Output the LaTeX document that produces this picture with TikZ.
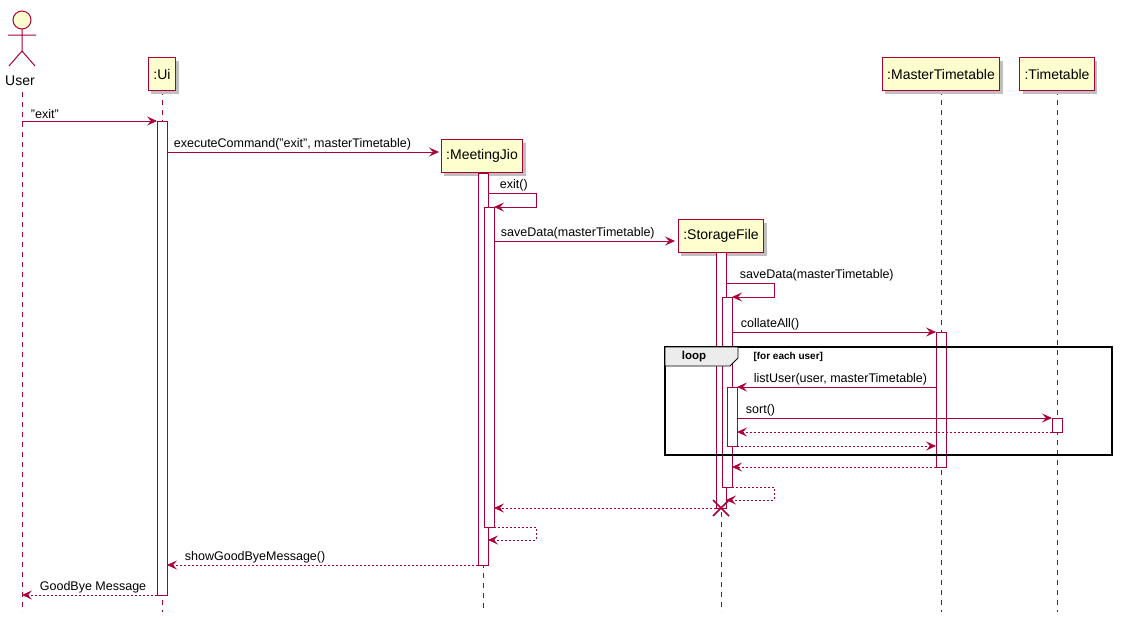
\documentclass[tikz,border=0pt]{standalone}
\usepackage{fontspec}
\setmainfont{Liberation Sans}
\usetikzlibrary{arrows.meta,shadows}
\definecolor{pb}{HTML}{A80036}
\definecolor{pf}{HTML}{FEFECE}
\begin{document}
\begin{tikzpicture}[x=1pt,y=-1pt,font=\fontsize{12.5}{14}\selectfont,
 head/.style={draw=pb,fill=pf,line width=1pt,minimum height=33pt,inner xsep=5pt,anchor=north,
   font=\fontsize{14}{16}\selectfont,
   drop shadow={shadow xshift=3pt,shadow yshift=-3pt,fill=black!25,opacity=1}},
 life/.style={pb,dash pattern=on 5pt off 5pt,line width=0.8pt},
 act/.style={draw=pb,fill=white,line width=0.8pt},
 msg/.style={pb,line width=0.8pt,-{Stealth[length=10pt,width=9pt,inset=4pt]}},
 ret/.style={msg,dash pattern=on 2pt off 2pt},
 lbl/.style={anchor=south west,inner sep=1.5pt,text=black}]
\useasboundingbox (0,0) rectangle (1123,619);
% lifelines
\foreach \x/\y in {22/92,162/90,483/173,721/252,941/90,1057/90}
  \draw[life] (\x,\y) -- (\x,612);
% heads
\node[head] (ui) at (162,57) {:Ui};
\node[head] (mt) at (941,57) {:MasterTimetable};
\node[head] (tt) at (1057,57) {:Timetable};
\node[head] (mj) at (482,139) {:MeetingJio};
\node[head] (sf) at (721,219) {:StorageFile};
% actor
\begin{scope}[pb,line width=1pt]
\draw[fill=pf] (22,20) circle (9);
\draw (22,29) -- (22,51) (8,35) -- (36,35) (22,51) -- (9,66) (22,51) -- (35,66);
\end{scope}
\node[anchor=north,font=\fontsize{14}{16}\selectfont] (user) at (20,72) {User};
% activations
\draw[act] (157,121) rectangle (167,595);
\draw[act] (478,173) rectangle (488,565);
\draw[act] (484,207) rectangle (494,527);
\draw[act] (716,252) rectangle (726,508);
\draw[act] (722,297) rectangle (732,487);
\draw[act] (936,332) rectangle (946,467);
\draw[act] (727,387) rectangle (737,446);
\draw[act] (1052,418) rectangle (1062,432);
% loop frame
\draw[line width=1.6pt] (665,347) rectangle (1112,455);
\draw[fill=gray!15,line width=0.8pt] (665,347) -- (738,347) -- (738,358) -- (730,366) -- (665,366) -- cycle;
\node[font=\fontsize{11.5}{13}\selectfont\bfseries] (loopl) at (694,357) {loop};
\node[font=\fontsize{10}{12}\selectfont\bfseries,anchor=west] (cond) at (750,357) {[for each user]};
% messages
\draw[msg] (22,121) -- node[lbl,pos=0,xshift=7pt] {"exit"} (157,121);
\draw[msg] (167,152) -- node[lbl,pos=0,xshift=5pt] {executeCommand("exit", masterTimetable)} (439,152);
\draw[msg] (488,193) -- node[lbl,pos=0,xshift=10pt] {exit()} (536,193) -- (536,207) -- (494,207);
\draw[msg] (494,241) -- node[lbl,pos=0,xshift=5pt] {saveData(masterTimetable)} (675,241);
\draw[msg] (726,283) -- node[lbl,pos=0,xshift=12pt] {saveData(masterTimetable)} (774,283) -- (774,297) -- (732,297);
\draw[msg] (732,332) -- node[lbl,pos=0,xshift=7pt] {collateAll()} (936,332);
\draw[msg] (936,387) -- node[lbl,pos=1,xshift=15pt] {listUser(user, masterTimetable)} (737,387);
\draw[msg] (737,418) -- node[lbl,pos=0,xshift=7pt] {sort()} (1052,418);
\draw[ret] (1052,432) -- (737,432);
\draw[ret] (737,446) -- (936,446);
\draw[ret] (936,467) -- (732,467);
\draw[ret] (732,487) -- (774,487) -- (774,500) -- (726,500);
\draw[ret] (716,508) -- (494,508);
\draw[pb,line width=1.5pt] (713,500) -- (729,516) (713,516) -- (729,500);
\draw[ret] (494,527) -- (536,527) -- (536,540) -- (488,540);
\draw[ret] (478,565) -- node[lbl,pos=1,xshift=16pt] {showGoodByeMessage()} (167,565);
\draw[ret] (157,595) -- node[lbl,pos=1,xshift=16pt] {GoodBye Message} (22,595);
\end{tikzpicture}
\end{document}
